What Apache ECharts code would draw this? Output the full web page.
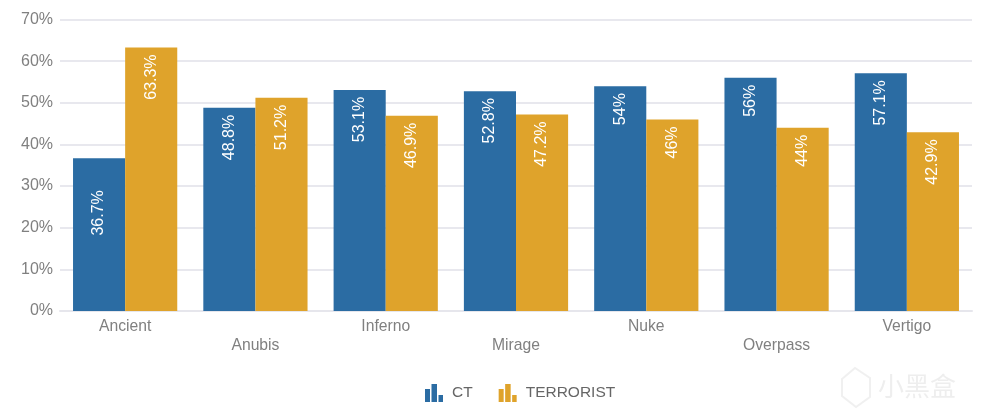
<!DOCTYPE html>
<html><head><meta charset="utf-8">
<style>html,body{margin:0;padding:0;background:#fff}#c{width:984px;height:418px}</style>
<script src="https://cdn.jsdelivr.net/npm/echarts@6/dist/echarts.min.js"></script>
</head><body><div id="c"></div>
<script>
const categories = ['Ancient','Anubis','Inferno','Mirage','Nuke','Overpass','Vertigo'];
const ctValues = [36.7,48.8,53.1,52.8,54,56,57.1];
const terroristValues = [63.3,51.2,46.9,47.2,46,44,42.9];
const font = 'Arial, "Liberation Sans", sans-serif';
const barIcon = 'path://M0,5H5V18H0Z M6.5,0H12V18H6.5Z M13.5,11H18V18H13.5Z';
const chart = echarts.init(document.getElementById('c'), null, {renderer:'canvas'});
function labelFor(){
  return {show:true, position:'insideTop', distance:9, rotate:90, align:'right', verticalAlign:'middle',
    offset:[2,0], color:'#fff', fontSize:16, fontFamily:font, formatter:p=>p.value+'%'};
}
chart.setOption({
  animation:false,
  grid:{left:60,right:12,top:19.5,bottom:107,containLabel:false},
  legend:{top:379,left:420,itemWidth:18,itemHeight:18,itemGap:26,
    textStyle:{color:'#666',fontSize:15.5,fontFamily:font,padding:[0,0,0,4]},
    data:[{name:'CT',icon:barIcon},{name:'TERRORIST',icon:barIcon}]},
  xAxis:{type:'category',data:categories,
    axisTick:{show:false},
    axisLine:{lineStyle:{color:'#e6e6ec',width:2}},
    axisLabel:{interval:0,color:'#808080',fontSize:15.7,fontFamily:font,margin:6,lineHeight:19,
      formatter:(v,i)=>i%2?'\n'+v:v}},
  yAxis:{type:'value',min:0,max:70,interval:10,
    axisLine:{show:false},axisTick:{show:false},
    axisLabel:{color:'#808080',fontSize:16,fontFamily:font,margin:7,formatter:'{value}%'},
    splitLine:{lineStyle:{color:'#e8e8ee',width:2}}},
  series:[
    {name:'CT',type:'bar',barWidth:'40%',barGap:0,itemStyle:{color:'#2b6ca3'},label:labelFor(),
     data:ctValues.map((v,i)=>i===0?{value:v,label:{distance:34}}:v)},
    {name:'TERRORIST',type:'bar',barWidth:'40%',barGap:0,itemStyle:{color:'#dfa32b'},label:labelFor(),
     data:terroristValues}
  ],
  graphic:[
    {type:'text',left:878,top:373,silent:true,style:{text:'小黑盒',fill:'rgba(150,150,150,0.16)',fontSize:26,fontFamily:'"Noto Sans CJK SC"'}},
    {type:'polygon',silent:true,shape:{points:[[842,379],[855,368],[870,378],[870,397],[856,407],[842,396]]},
     style:{fill:'none',stroke:'rgba(150,150,150,0.14)',lineWidth:2}}
  ]
});
</script></body></html>
